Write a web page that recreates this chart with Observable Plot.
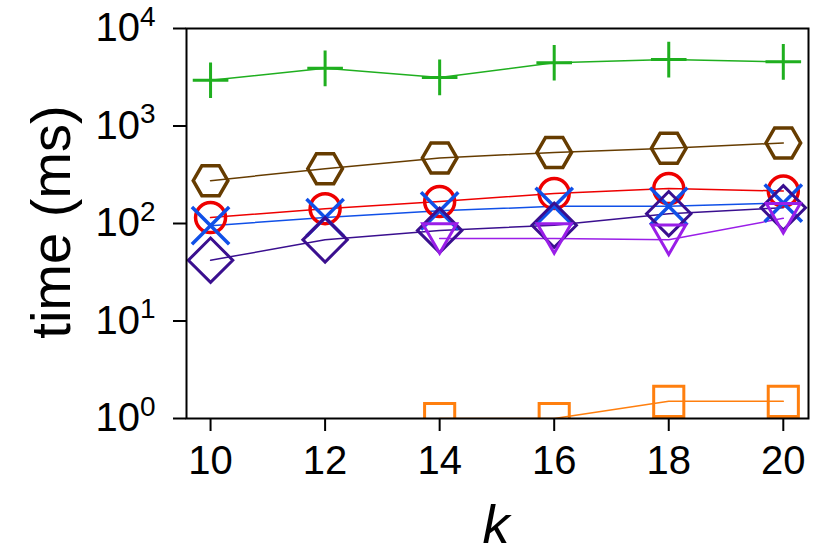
<!DOCTYPE html>
<html>
<head>
<meta charset="utf-8">
<script src="https://cdn.jsdelivr.net/npm/d3@7"></script>
<script src="https://cdn.jsdelivr.net/npm/@observablehq/plot@0.6"></script>
<style>
  html, body { margin: 0; padding: 0; background: #fff; }
  #chart svg { display: block; }
</style>
</head>
<body>
<div id="chart"></div>
<script>
const kValues = [10, 12, 14, 16, 18, 20];
const xTicks = [10, 12, 14, 16, 18, 20];
const yTicks = [1, 10, 100, 1000, 10000];
const yExponents = ["0", "1", "2", "3", "4"];

const greenPlus = [2950, 3900, 3150, 4450, 4800, 4550];
const brownHexagon = [275, 365, 470, 535, 590, 670];
const redCircle = [115, 142, 168, 203, 228, 215];
const blueTimes = [95, 115, 135, 150, 150, 162];
const indigoDiamond = [42, 68, 85, 96, 126, 145];
const violetTriangle = [null, null, 70, 70, 68, 113];
const orangeSquare = [null, null, 1, 1, 1.5, 1.5];

const seriesDefs = [
  {name: "plus", values: greenPlus, color: "#1faf1f", symbol: "plus", r: 11.5, rotate: 0, dy: 0, sw: 3},
  {name: "hexagon", values: brownHexagon, color: "#663c00", symbol: "hexagon", r: 15, rotate: 90, dy: 0, sw: 3.5},
  {name: "circle", values: redCircle, color: "#ee0000", symbol: "circle", r: 15, rotate: 0, dy: 0, sw: 3.5},
  {name: "times", values: blueTimes, color: "#1050e8", symbol: "times", r: 17, rotate: 0, dy: 0, sw: 3.5},
  {name: "diamond", values: indigoDiamond, color: "#3a0f8f", symbol: "diamond2", r: 20, rotate: 0, dy: 0, sw: 3},
  {name: "triangle", values: violetTriangle, color: "#9a1ee8", symbol: "triangle", r: 12.6, rotate: 180, dy: -5, sw: 3},
  {name: "square", values: orangeSquare, color: "#ff7f0e", symbol: "square", r: 17, rotate: 0, dy: 0, sw: 3}
];

const marks = [];
for (const s of seriesDefs) {
  const rows = kValues.map((k, i) => ({k, v: s.values[i]})).filter(d => d.v != null);
  marks.push(Plot.line(rows, {x: "k", y: "v", stroke: s.color, strokeWidth: 1.5, clip: true}));
}
for (const s of seriesDefs) {
  const rows = kValues.map((k, i) => ({k, v: s.values[i]})).filter(d => d.v != null);
  marks.push(Plot.dot(rows, {
    x: "k", y: "v", symbol: () => s.symbol, r: s.r, rotate: s.rotate, dy: s.dy,
    fill: "none", stroke: s.color, strokeWidth: s.sw, clip: true
  }));
}
marks.push(Plot.frame({stroke: "black", strokeWidth: 2}));
marks.push(Plot.axisX(xTicks, {tickSize: 13, tickPadding: 14, tickFormat: d => String(d), fontSize: 40, strokeWidth: 2, label: null}));
marks.push(Plot.axisY(yTicks, {tickSize: 13, tickPadding: 18, tickFormat: (d, i) => "10", fontSize: 40, strokeWidth: 2, label: null}));

const chart = Plot.plot({
  width: 830,
  height: 554,
  marginLeft: 186,
  marginRight: 22,
  marginTop: 28,
  marginBottom: 136,
  style: {fontFamily: "'Liberation Sans', Arial, sans-serif", color: "black", background: "white", overflow: "visible"},
  x: {domain: [9.58, 20.44]},
  y: {type: "log", domain: [1, 10000]},
  symbol: {type: "identity"},
  marks
});

// superscript exponents on y tick labels
const yLabels = chart.querySelectorAll('g[aria-label="y-axis tick label"] text');
yLabels.forEach((t, i) => {
  t.textContent = "";
  const base = document.createElementNS("http://www.w3.org/2000/svg", "tspan");
  base.textContent = "10";
  const sup = document.createElementNS("http://www.w3.org/2000/svg", "tspan");
  sup.textContent = yExponents[i];
  sup.setAttribute("font-size", "28");
  sup.setAttribute("dy", "-0.55em");
  t.appendChild(base);
  t.appendChild(sup);
});

// axis titles
const svg = d3.select(chart);
svg.append("text")
  .attr("transform", "translate(50,222) rotate(-90)")
  .attr("text-anchor", "middle")
  .attr("dominant-baseline", "central")
  .attr("font-size", 56)
  .attr("font-family", "'Liberation Sans', Arial, sans-serif")
  .text("time (ms)");
svg.append("text")
  .attr("x", 496)
  .attr("y", 543)
  .attr("text-anchor", "middle")
  .attr("font-size", 54)
  .attr("font-style", "italic")
  .attr("font-family", "'Liberation Sans', Arial, sans-serif")
  .text("k");

document.getElementById("chart").appendChild(chart);
</script>
</body>
</html>
